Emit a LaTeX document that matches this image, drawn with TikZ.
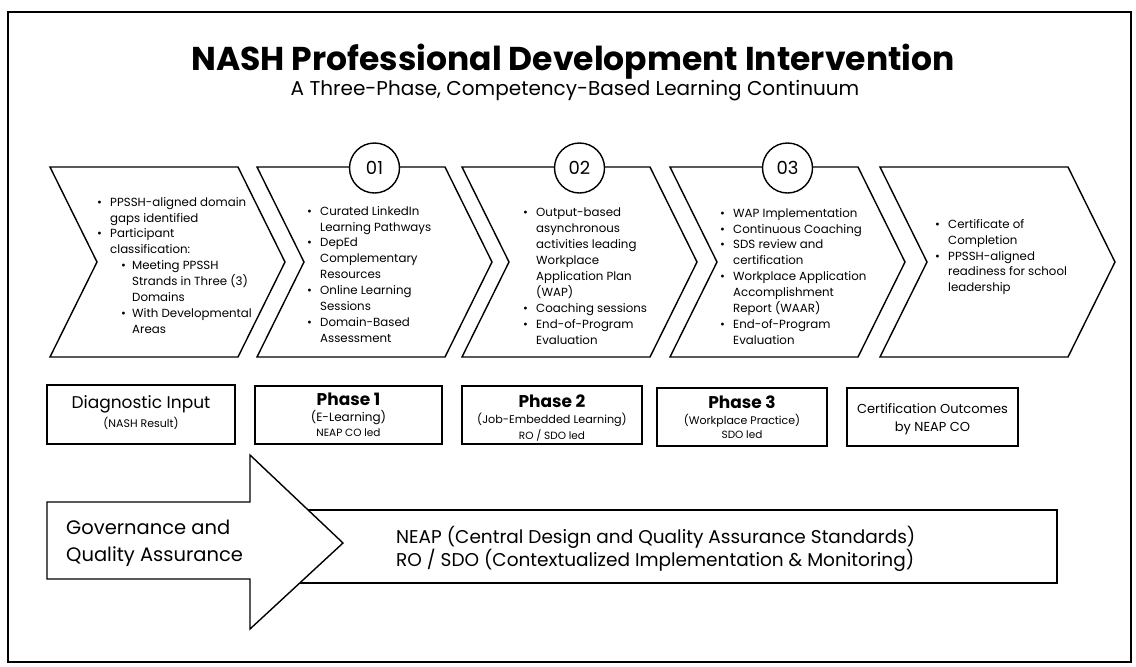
\documentclass[tikz,border=0pt]{standalone}
\usepackage{fontspec}
\setmainfont{Poppins}
\newcommand{\mybi}{\makebox[13pt][l]{\textbullet}}
\newcommand{\mybc}{\hspace*{13pt}}
\newcommand{\mysi}{\hspace*{24pt}\makebox[11pt][l]{\textbullet}}
\newcommand{\mysc}{\hspace*{35pt}}
\tikzset{
  chev/.style={draw=black, line width=1.4pt, fill=white, line join=miter},
  bul/.style={anchor=north west, inner sep=0pt, align=left, font=\fontsize{11.8}{15.9}\selectfont},
  num/.style={circle, draw=black, line width=1.4pt, fill=white, minimum size=50pt, inner sep=0pt, font=\fontsize{18}{20}\selectfont},
  pbox/.style={draw=black, line width=1.4pt, fill=white},
  lab/.style={inner sep=0pt, align=center},
}
\begin{document}
\begin{tikzpicture}[x=1pt, y=-1pt]
\useasboundingbox (0,0) rectangle (1136,667);
\fill[white] (0,0) rectangle (1136,667);
% frame
\draw[line width=1.8pt] (8,12) rectangle (1131,662);
% title
\node[lab, font=\fontsize{33}{36}\bfseries] (title) at (573,62) {NASH Professional Development Intervention};
\node[lab, font=\fontsize{20}{22}\selectfont] (subtitle) at (575,91) {A Three-Phase, Competency-Based Learning Continuum};
% chevrons
\foreach \l in {50,257,462,670,880}{
  \draw[chev] (\l,167) -- ({\l+188},167) -- ({\l+235},262) -- ({\l+188},357) -- (\l,357) -- ({\l+47},262) -- cycle;
}
% numbered circles
\node[num] (n1) at (374.5,168) {01};
\node[num] (n2) at (579.5,168) {02};
\node[num] (n3) at (787.5,168) {03};
% chevron texts
\node[bul] (t1) at (97,197) {\mybi PPSSH-aligned domain\\ \mybc gaps identified\\ \mybi Participant\\ \mybc classification:\\ \mysi Meeting PPSSH\\ \mysc Strands in Three (3)\\ \mysc Domains\\ \mysi With Developmental\\ \mysc Areas};
\node[bul] (t2) at (307,206) {\mybi Curated LinkedIn\\ \mybc Learning Pathways\\ \mybi DepEd\\ \mybc Complementary\\ \mybc Resources\\ \mybi Online Learning\\ \mybc Sessions\\ \mybi Domain-Based\\ \mybc Assessment};
\node[bul] (t3) at (523,208) {\mybi Output-based\\ \mybc asynchronous\\ \mybc activities leading\\ \mybc Workplace\\ \mybc Application Plan\\ \mybc (WAP)\\ \mybi Coaching sessions\\ \mybi End-of-Program\\ \mybc Evaluation};
\node[bul] (t4) at (720,208) {\mybi WAP Implementation\\ \mybi Continuous Coaching\\ \mybi SDS review and\\ \mybc certification\\ \mybi Workplace Application\\ \mybc Accomplishment\\ \mybc Report (WAAR)\\ \mybi End-of-Program\\ \mybc Evaluation};
\node[bul] (t5) at (935,219) {\mybi Certificate of\\ \mybc Completion\\ \mybi PPSSH-aligned\\ \mybc readiness for school\\ \mybc leadership};
% phase boxes
\draw[pbox] (47,385) rectangle (235,444);
\draw[pbox] (255,386) rectangle (442,444);
\draw[pbox] (462,386) rectangle (642,444);
\draw[pbox] (657,388) rectangle (827,446);
\draw[pbox] (847,388) rectangle (1018,446);
\node[lab, font=\fontsize{17}{19}\selectfont] (b1a) at (141,404) {Diagnostic Input};
\node[lab, font=\fontsize{11}{12}\selectfont] (b1b) at (141,423) {(NASH Result)};
\node[lab, font=\fontsize{17}{19}\bfseries] (b2a) at (348.5,399) {Phase 1};
\node[lab, font=\fontsize{12}{13}\selectfont] (b2b) at (348.5,418) {(E-Learning)};
\node[lab, font=\fontsize{10.5}{12}\selectfont] (b2c) at (348.5,433) {NEAP CO led};
\node[lab, font=\fontsize{17}{19}\bfseries] (b3a) at (552,401) {Phase 2};
\node[lab, font=\fontsize{11.2}{12}\selectfont] (b3b) at (552,420) {(Job-Embedded Learning)};
\node[lab, font=\fontsize{10.5}{12}\selectfont] (b3c) at (552,435) {RO / SDO led};
\node[lab, font=\fontsize{17}{19}\bfseries] (b4a) at (742,402) {Phase 3};
\node[lab, font=\fontsize{11}{12}\selectfont] (b4b) at (742,421) {(Workplace Practice)};
\node[lab, font=\fontsize{10.5}{12}\selectfont] (b4c) at (742,435) {SDO led};
\node[lab, font=\fontsize{13}{18}\selectfont] (b5) at (932.5,419) {Certification Outcomes\\ by NEAP CO};
% governance
\draw[pbox] (280,510) rectangle (1057,583);
\draw[chev] (47,502) -- (250,502) -- (250,455) -- (343,543) -- (250,629) -- (250,579) -- (47,579) -- cycle;
\node[lab, anchor=west, align=left, font=\fontsize{19.5}{27}\selectfont] (gov) at (66,543.5) {Governance and\\ Quality Assurance};
\node[lab, anchor=west, align=left, font=\fontsize{18.5}{23}\selectfont] (gtxt) at (396,548.5) {NEAP (Central Design and Quality Assurance Standards)\\ RO / SDO (Contextualized Implementation \& Monitoring)};
\end{tikzpicture}
\end{document}
